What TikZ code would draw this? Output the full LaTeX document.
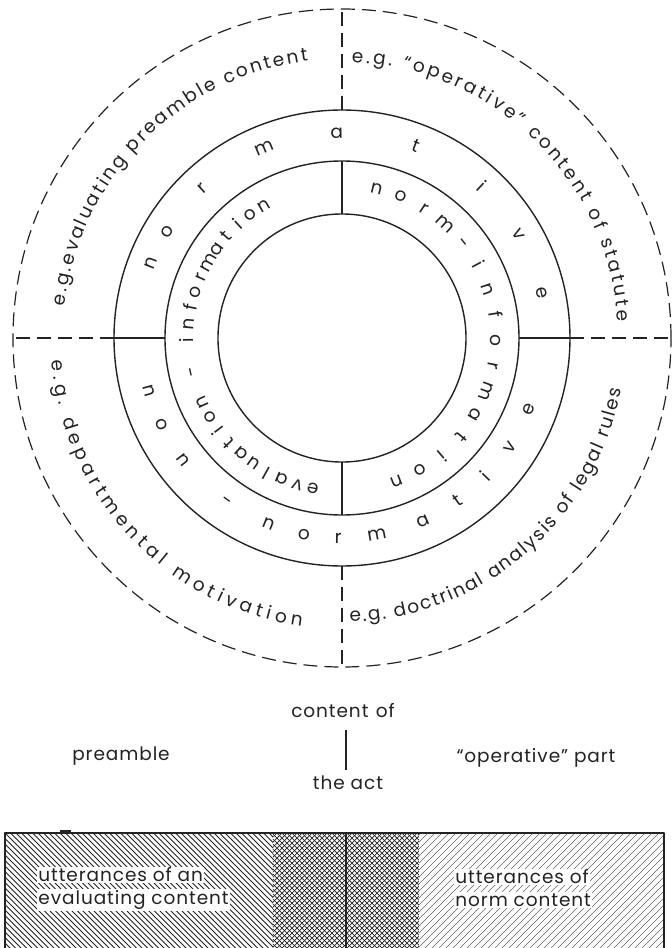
\documentclass[tikz,border=0pt]{standalone}
\usepackage{fontspec}
\setmainfont{Poppins}
\usetikzlibrary{decorations.text}
\definecolor{ink}{RGB}{35,35,35}
\newcommand\arcfont{\fontsize{18.5}{21}\selectfont}
\newcommand\ringfont{\fontsize{18.5}{21}\selectfont}
\newcommand\lblfont{\addfontfeatures{LetterSpace=5}\fontsize{18.5}{22}\selectfont}
\tikzset{
  dashline/.style={draw=ink, line width=1.2pt, dash pattern=on 14pt off 7pt},
  solidline/.style={draw=ink, line width=1.4pt},
  ringtxt/.style={text=ink, font=\ringfont, inner sep=0pt, anchor=mid},
  lbl/.style={text=ink, font=\lblfont, inner sep=0pt, anchor=mid},
  boxtxt/.style={text=ink, font=\lblfont, fill=white, inner sep=1.2pt, anchor=west},
  boxline/.style={draw=ink, line width=1.8pt},
  hatchL/.style={draw=ink, line width=0.8pt},
  hatchR/.style={draw=ink!70, line width=0.6pt},
  hatchX/.style={draw=ink, line width=0.7pt},
  arctxt/.style={decorate, decoration={text along path, text align=fit to path, text={|\arcfont\color{ink}|#1}}}
}
\begin{document}
\begin{tikzpicture}[x=1pt,y=1pt,line join=round]
\useasboundingbox (-342,338) rectangle (330,-610);
\fill[white] (-342,338) rectangle (330,-610);
\coordinate (C) at (0,0);
% circles
\draw[dashline] (C) circle[radius=329];
\draw[solidline] (C) circle[radius=228] (C) circle[radius=177] (C) circle[radius=124];
\foreach \a/\n in {0/E,90/N,180/W,270/S}{
  \coordinate (o\n) at (\a:329);
  \coordinate (a\n) at (\a:228);
  \coordinate (b\n) at (\a:177);
  \coordinate (c\n) at (\a:124);
}
\draw[dashline] (aN)--(oN) (aS)--(oS) (aW)--(oW) (aE)--(oE);
\draw[solidline] (bW)--(aW) (bE)--(aE) (cN)--(bN) (cS)--(bS);
% outer quadrant texts
\path[arctxt={e.g.evaluating preamble content}] (173.5:279) arc[start angle=173.5, end angle=97, radius=279];
\path[arctxt={e.g. “operative” content of statute}] (88:276) arc[start angle=88, end angle=3.5, radius=276];
\path[arctxt={e.g. departmental motivation}] (184.5:291) arc[start angle=184.5, end angle=262, radius=291];
\path[arctxt={e.g. doctrinal analysis of legal rules}] (271.6:284) arc[start angle=271.6, end angle=349.5, radius=284];
% outer ring letters
\foreach \ch/\a [count=\i] in {n/158.7, o/148.7, r/133, m/112.4, a/91.5, t/69, i/47.4, v/30.4, e/12.8}
  \node[ringtxt, rotate=\a-90] (nt\i) at (\a:202.5) {\ch};
\foreach \ch/\a [count=\i] in {n/195.4, o/205.8, n/217.5, -/234.7, n/248.5, o/259, r/268.9, m/280, a/293.8, t/305.4, i/316, v/326.9, e/339}
  \node[ringtxt, rotate=\a+90] (nn\i) at (\a:202.5) {\ch};
% inner ring letters
\foreach \ch [count=\i from 0] in {n,o,r,m,-,i,n,f,o,r,m,a,t,i,o,n}{
  \pgfmathsetmacro\ang{77-\i*9.733}
  \node[ringtxt, rotate=\ang-90] (ni\i) at (\ang:151) {\ch};
}
\foreach \ch [count=\i from 0] in {e,v,a,l,u,a,t,i,o,n}{
  \pgfmathsetmacro\ang{259-\i*6.02}
  \node[ringtxt, rotate=\ang-90] (ev\i) at (\ang:151) {\ch};
}
\pgfmathsetmacro\ang{259-11*6.02}
\node[ringtxt, rotate=\ang-90] (evdash) at (\ang:151) {-};
\foreach \ch [count=\i from 13] in {i,n,f,o,r,m,a,t,i,o,n}{
  \pgfmathsetmacro\ang{259-\i*6.02}
  \node[ringtxt, rotate=\ang-90] (ei\i) at (\ang:151) {\ch};
}
% labels below
\node[lbl] (content) at (1,-377) {content\hspace{0.4em}of};
\node[lbl] (act) at (6,-449) {the act};
\node[lbl] (pre) at (-221,-420) {preamble};
\node[lbl] (oper) at (194,-422) {“operative” part};
\coordinate (bart) at (4,-392);
\coordinate (barb) at (4,-432);
\draw[draw=ink, line width=2.5pt] (bart)--(barb);
% box hatching
\begin{scope}
\clip (-337,-495) rectangle (-69,-615);
\foreach \x in {-480,-474.5,...,-60} \draw[hatchL] (\x,-495) -- ++(125,-125);
\end{scope}
\begin{scope}
\clip (-69,-495) rectangle (77,-615);
\foreach \x in {-200,-195,...,80} {\draw[hatchX] (\x,-495) -- ++(125,-125); \draw[hatchX] (\x,-620) -- ++(125,125);}
\end{scope}
\begin{scope}
\clip (77,-495) rectangle (322,-615);
\foreach \x in {-60,-53,...,330} \draw[hatchR] (\x,-620) -- ++(125,125);
\end{scope}
\coordinate (bl) at (-337,-615);
\coordinate (tl) at (-337,-495);
\coordinate (tr) at (322,-495);
\coordinate (br) at (322,-615);
\coordinate (mt) at (4,-495);
\coordinate (mb) at (4,-615);
\draw[boxline] (bl)--(tl)--(tr)--(br);
\draw[boxline] (mt)--(mb);
\coordinate (blobA) at (-282,-493.5);
\coordinate (blobB) at (-271,-493.5);
\draw[draw=ink, line width=3pt] (blobA)--(blobB);
\node[boxtxt] (u1) at (-305,-537) {utterances of an};
\node[boxtxt] (u2) at (-305,-562) {evaluating content};
\node[boxtxt] (u3) at (112,-539) {utterances of};
\node[boxtxt] (u4) at (112,-562) {norm content};
\end{tikzpicture}
\end{document}
